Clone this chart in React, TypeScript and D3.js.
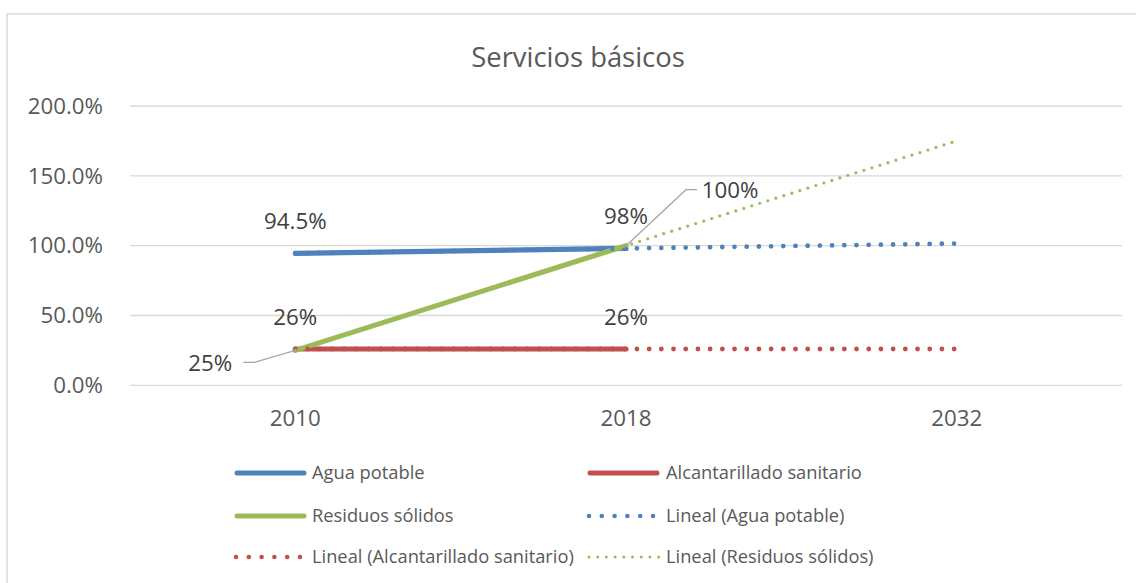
import React from 'react';
import * as d3 from 'd3';

// chart values
const categories = ['2010', '2018', '2032'];
const aguaPotable = [94.5, 98];
const alcantarillado = [26, 26];
const residuos = [25, 100];
// linear trend lines (Excel "Lineal"), forecast to 2032
const aguaTrend = [94.5, 98, 101.5];
const alcantarilladoTrend = [26, 26, 26];
const residuosTrend = [25, 100, 175];
const yTicks = [0, 50, 100, 150, 200];

const W = 1136;
const H = 583;
const margin = {top: 106, right: 14, bottom: 198, left: 130};
const FONT = '"Open Sans", sans-serif';

const BLUE = '#4f81bd';
const RED = '#c0504d';
const GREEN = '#9bbb59';

const App = () => {
  const x = d3.scaleBand<string>()
    .domain(categories)
    .range([margin.left, W - margin.right]);
  const cx = (i: number) => (x(categories[i]) as number) + x.bandwidth() / 2;

  const y = d3.scaleLinear()
    .domain([0, 200])
    .range([H - margin.bottom + 0.3, margin.top]);

  const line = d3.line<number>()
    .x((d, i) => cx(i))
    .y(d => y(d));

  const pct = (v: number) => d3.format('.1~%')(v / 100);
  const tickFmt = (v: number) => d3.format('.1%')(v / 100);

  const series = [
    {name: 'Agua potable', values: aguaPotable, color: BLUE},
    {name: 'Alcantarillado sanitario', values: alcantarillado, color: RED},
    {name: 'Residuos sólidos', values: residuos, color: GREEN},
  ];
  const trends = [
    {name: 'Lineal (Agua potable)', values: aguaTrend, color: BLUE, w: 4.8, gap: 12.2},
    {name: 'Lineal (Alcantarillado sanitario)', values: alcantarilladoTrend, color: RED, w: 4.8, gap: 12.2},
    {name: 'Lineal (Residuos sólidos)', values: residuosTrend, color: GREEN, w: 3.2, gap: 8.4},
  ];

  // data labels placed above the point; two were moved by hand with leader lines
  const labels = [
    {v: aguaPotable[0], i: 0, dx: 0, dy: -32},
    {v: aguaPotable[1], i: 1, dx: 0, dy: -32},
    {v: alcantarillado[0], i: 0, dx: 0, dy: -32},
    {v: alcantarillado[1], i: 1, dx: 0, dy: -32},
    {v: residuos[0], i: 0, dx: -85, dy: 13, leader: true},
    {v: residuos[1], i: 1, dx: 104, dy: -55, leader: true},
  ];

  const legend = [
    {name: series[0].name, color: BLUE, kind: 'solid', col: 0, row: 0},
    {name: series[1].name, color: RED, kind: 'solid', col: 1, row: 0},
    {name: series[2].name, color: GREEN, kind: 'solid', col: 0, row: 1},
    {name: trends[0].name, color: BLUE, kind: 'dot', col: 1, row: 1},
    {name: trends[1].name, color: RED, kind: 'dot', col: 0, row: 2},
    {name: trends[2].name, color: GREEN, kind: 'fine', col: 1, row: 2},
  ];
  const legendCols = [235, 588];
  const legendRows = [473, 516, 557];

  return (
    <svg width={W} height={H} style={{position: 'absolute', left: 0, top: 0, background: '#fff'}}
      fontFamily={FONT}>
      <rect x={7} y={14} width={W} height={H} fill="#fff" stroke="#d9d9d9" strokeWidth={1.5} />

      <text x={578} y={56} textAnchor="middle" dominantBaseline="central" fontSize={27.4} fill="#595959">
        Servicios básicos
      </text>

      {/* gridlines and y labels */}
      {yTicks.map(t => (
        <g key={t}>
          <line x1={margin.left} x2={W - margin.right} y1={y(t)} y2={y(t)} stroke="#d9d9d9" strokeWidth={1.3} />
          <text x={103} y={y(t)} textAnchor="end" dy="0.35em" fontSize={22.3} fill="#595959">
            {tickFmt(t)}
          </text>
        </g>
      ))}

      {/* x labels */}
      {categories.map((c, i) => (
        <text key={c} x={cx(i)} y={418} textAnchor="middle" dy="0.35em" fontSize={22.3} fill="#595959">
          {c}
        </text>
      ))}

      {/* series */}
      {series.map(s => (
        <path key={s.name} d={line(s.values) as string} fill="none" stroke={s.color}
          strokeWidth={5.2} strokeLinecap="round" />
      ))}

      {/* trend lines */}
      {trends.map(t => (
        <path key={t.name} d={line(t.values) as string} fill="none" stroke={t.color}
          strokeWidth={t.w} strokeLinecap="round" strokeDasharray={`0 ${t.gap}`} />
      ))}

      {/* data labels */}
      {labels.map((l, k) => {
        const px = cx(l.i);
        const py = y(l.v);
        const lx = px + l.dx;
        const ly = py + l.dy;
        let leader = null;
        if (l.leader) {
          const side = l.dx < 0 ? 1 : -1;
          const ex = lx + side * 33;
          const kx = ex + side * 11;
          leader = <polyline points={`${px},${py} ${kx},${ly - 1} ${ex},${ly - 1}`} fill="none"
            stroke="#a6a6a6" strokeWidth={1.3} />;
        }
        return (
          <g key={k}>
            {leader}
            <text x={lx} y={ly} textAnchor="middle" dy="0.35em" fontSize={22.3} fill="#404040">
              {pct(l.v)}
            </text>
          </g>
        );
      })}

      {/* legend */}
      {legend.map(l => {
        const x0 = legendCols[l.col];
        const yy = legendRows[l.row];
        let swatch;
        if (l.kind === 'solid') {
          swatch = <line x1={x0 + 2} x2={x0 + 69} y1={yy} y2={yy} stroke={l.color} strokeWidth={5} strokeLinecap="round" />;
        } else if (l.kind === 'dot') {
          swatch = <line x1={x0 + 1} x2={x0 + 66} y1={yy} y2={yy} stroke={l.color} strokeWidth={4.6} strokeLinecap="round" strokeDasharray="0 12.8" />;
        } else {
          swatch = <line x1={x0 + 1} x2={x0 + 71} y1={yy} y2={yy} stroke={l.color} strokeWidth={3} strokeLinecap="round" strokeDasharray="0 8.7" />;
        }
        return (
          <g key={l.name}>
            {swatch}
            <text x={x0 + (l.col === 0 ? 77 : 78)} y={yy} dy="0.35em" fontSize={18.3} fill="#595959">
              {l.name}
            </text>
          </g>
        );
      })}
    </svg>
  );
};

export default App;
